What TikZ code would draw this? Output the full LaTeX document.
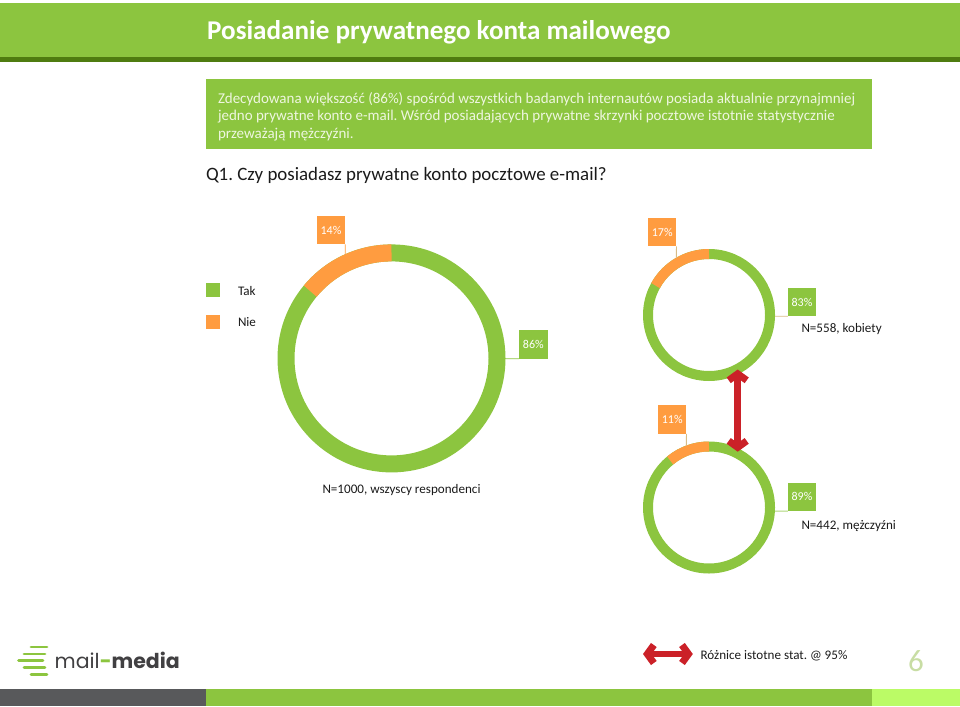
\documentclass[tikz,border=0pt]{standalone}
\usepackage{fontspec}
\setmainfont{Carlito}
\newfontfamily\logofont{Poppins}
\usetikzlibrary{arrows.meta}
\frenchspacing
\definecolor{mmgreen}{HTML}{8CC53F}
\definecolor{mmdark}{HTML}{4F7C10}
\definecolor{mmorange}{HTML}{FF9C40}
\definecolor{mmred}{HTML}{CB2128}
\definecolor{mmgrey}{HTML}{58595B}
\definecolor{mmlime}{HTML}{BBFB66}
\definecolor{mmtext}{HTML}{1A1A1A}
\definecolor{mmboxtext}{HTML}{EEF6DF}
\definecolor{mmpage}{HTML}{C8DDA4}
\definecolor{mmlogo}{HTML}{414042}
\definecolor{mmtan}{HTML}{D8BC86}
\tikzset{
  txt/.style={anchor=base west,inner sep=0pt,outer sep=0pt,text=mmtext,font=\fontsize{13.1}{16}\selectfont},
  boxtxt/.style={anchor=base west,inner sep=0pt,outer sep=0pt,text=mmboxtext,font=\fontsize{15}{18}\selectfont},
  valbox/.style={minimum width=28.5pt,minimum height=28.5pt,inner sep=0pt,outer sep=0pt,text=white,font=\fontsize{12}{13}\selectfont},
  greenbox/.style={valbox,fill=mmgreen},
  orangebox/.style={valbox,fill=mmorange},
  legendkey/.style={minimum width=14.5pt,minimum height=14.5pt,inner sep=0pt,outer sep=0pt},
  leader/.style={line width=0.9pt},
  logobar/.style={mmgreen,line width=2.8pt,line cap=round},
  bigarrow/.style={mmred,line width=6.6pt,{Straight Barb[length=6.5pt,width=18pt,line width=7pt]}-{Straight Barb[length=6.5pt,width=18pt,line width=7pt]}},
}
\begin{document}
\begin{tikzpicture}[x=1pt,y=-1pt]
\useasboundingbox (0,0) rectangle (960,706);
% header
\fill[mmgreen] (0,2.7) rectangle (960,57.5);
\fill[mmdark] (0,57.5) rectangle (960,61.7);
\node[anchor=base west,inner sep=0pt,text=white,font=\fontsize{27.1}{30}\bfseries\selectfont] (title) at (207,40) {Posiadanie prywatnego konta mailowego};
% summary box
\fill[mmgreen] (206,79.3) rectangle (872,149);
\node[boxtxt] (l1) at (218,103) {Zdecydowana większość (86\%) spośród wszystkich badanych internautów posiada aktualnie przynajmniej};
\node[boxtxt] (l2) at (218,121) {jedno prywatne konto e-mail. Wśród posiadających prywatne skrzynki pocztowe istotnie statystycznie};
\node[boxtxt] (l3) at (218,138.5) {przeważają mężczyźni.};
\node[txt,font=\fontsize{18.9}{22}\selectfont] (q1) at (206,180) {Q1. Czy posiadasz prywatne konto pocztowe e-mail?};
% legend
\node[legendkey,fill=mmgreen] (ktak) at (213.2,290) {};
\node[legendkey,fill=mmorange] (knie) at (213.2,321.8) {};
\node[txt] (ttak) at (238,295) {Tak};
\node[txt] (tnie) at (238,326.5) {Nie};
% rings
\coordinate (big) at (391.5,358.4);
\coordinate (ra) at (709,315);
\coordinate (rb) at (709,507.5);
\draw[mmgreen,line width=17pt] (big) circle[radius=105.5pt];
\draw[mmorange,line width=17pt] (391.5,252.9) arc[start angle=90,end angle=140.4,radius=105.5pt];
\draw[mmgreen,line width=10pt] (ra) circle[radius=61pt];
\draw[mmorange,line width=10pt] (709,254) arc[start angle=90,end angle=151.2,radius=61pt];
\draw[mmgreen,line width=10pt] (rb) circle[radius=61pt];
\draw[mmorange,line width=10pt] (709,446.5) arc[start angle=90,end angle=129.6,radius=61pt];
% value boxes
\node[orangebox] (b14) at (331,230) {14\%};
\node[greenbox] (b86) at (533.3,344.5) {86\%};
\node[orangebox] (b17) at (662.2,232.2) {17\%};
\node[greenbox] (b83) at (802,302) {83\%};
\node[orangebox] (b11) at (672.2,419.6) {11\%};
\node[greenbox] (b89) at (802,496.9) {89\%};
% leaders
\coordinate (e14) at (345.2,254.5);
\coordinate (e86) at (505,358.7);
\coordinate (e17) at (676.4,258);
\coordinate (e83) at (775,316.2);
\coordinate (e11) at (686.4,445.5);
\coordinate (e89) at (775,511.1);
\draw[leader,mmorange] (b14.south east) -- (e14);
\draw[leader,mmgreen] (b86.south west) -- (e86);
\draw[leader,mmtan] (b17.south east) -- (e17);
\draw[leader,mmtan] (b83.south west) -- (e83);
\draw[leader,mmtan] (b11.south east) -- (e11);
\draw[leader,mmgreen!70] (b89.south west) -- (e89);
% sample labels
\node[txt] (n1000) at (322.5,493) {N=1000, wszyscy respondenci};
\node[txt] (n558) at (801.5,332.5) {N=558, kobiety};
\node[txt] (n442) at (801.5,529) {N=442, mężczyźni};
% vertical significance arrow
\coordinate (atop) at (737.7,369.5);
\coordinate (abot) at (737.7,451.7);
\draw[bigarrow] (atop) -- (abot);
% footer
\fill[mmgrey] (0,689) rectangle (206,706);
\fill[mmgreen] (206,689) rectangle (871.7,706);
\fill[mmlime] (871.7,689) rectangle (960,706);
\coordinate (kl) at (643,654);
\coordinate (kr) at (692.8,654);
\draw[bigarrow] (kl) -- (kr);
\node[txt] (keytxt) at (700.5,659) {Różnice istotne stat. @ 95\%};
\node[anchor=center,inner sep=0pt,text=mmpage,font=\fontsize{31}{34}\selectfont] (pg) at (916,661.5) {6};
% logo
\draw[logobar] (31,647) -- (47,647);
\draw[logobar] (24,654) -- (45,654);
\draw[logobar] (18.5,660.7) -- (43,660.7);
\draw[logobar] (24,667.5) -- (45,667.5);
\draw[logobar] (31,674.3) -- (47,674.3);
\node[anchor=base west,inner sep=0pt,font=\fontsize{20.5}{24}\logofont] (logo) at (54.5,668.3) {\textcolor{mmlogo}{mail}\textcolor{mmgreen}{\textbf{-}}\textcolor{mmlogo}{\textbf{media}}};
\end{tikzpicture}
\end{document}
